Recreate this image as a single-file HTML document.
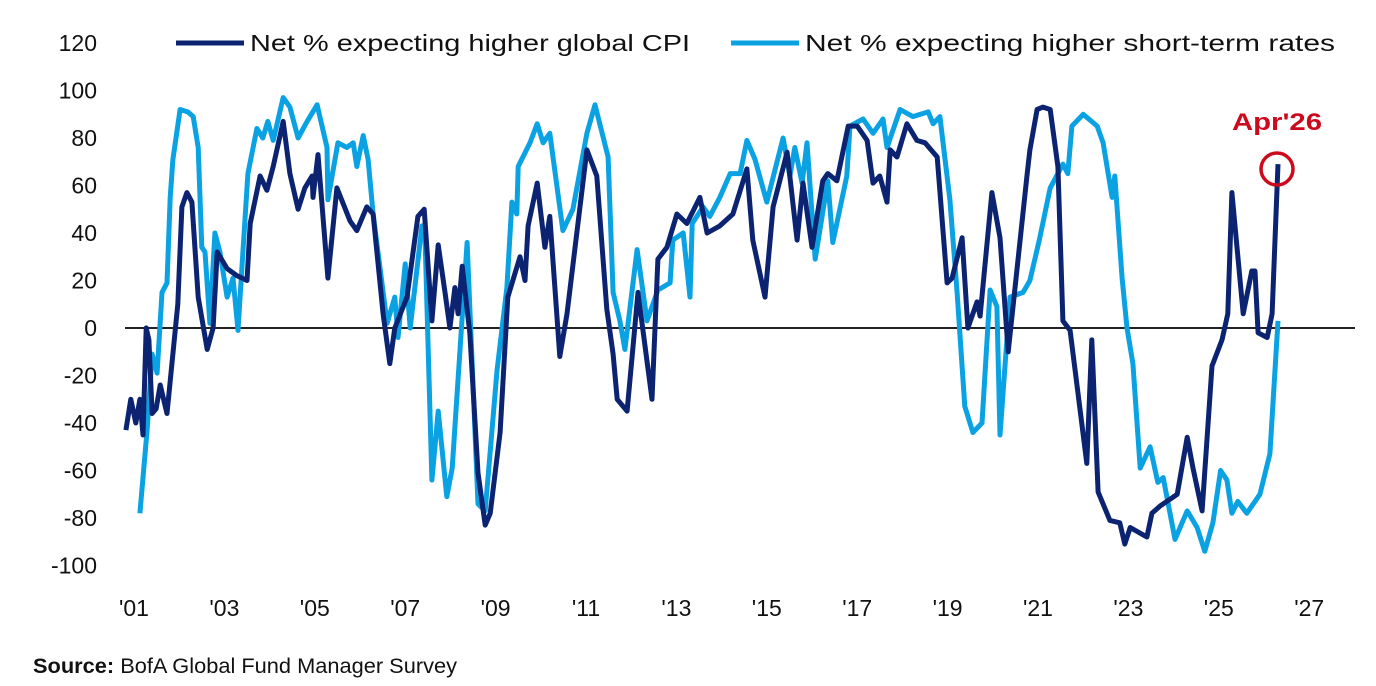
<!DOCTYPE html>
<html><head><meta charset="utf-8"><style>
html,body{margin:0;padding:0;background:#fff;}
svg{display:block;font-family:"Liberation Sans",sans-serif;}
</style></head><body>
<svg id="chart" width="1376" height="686" viewBox="0 0 1376 686" xmlns="http://www.w3.org/2000/svg">
<g id="yaxis"></g>
<g id="xaxis"></g>
<line x1="125" x2="1355" y1="328" y2="328" stroke="#222" stroke-width="2"/>
<g id="series"></g>
<g>
<g>
<line x1="176" x2="244" y1="43" y2="43" stroke="#0b2370" stroke-width="5"/>
<text x="250" y="51" font-size="23" fill="#111" textLength="440" lengthAdjust="spacingAndGlyphs">Net % expecting higher global CPI</text>
</g>
<g>
<line x1="731" x2="799" y1="43" y2="43" stroke="#0aa2e2" stroke-width="5"/>
<text x="805" y="51" font-size="23" fill="#111" textLength="530" lengthAdjust="spacingAndGlyphs">Net % expecting higher short-term rates</text>
</g>
</g>
<text x="1232" y="130" font-size="24" font-weight="bold" fill="#cc0a1e" textLength="90" lengthAdjust="spacingAndGlyphs">Apr'26</text>
<circle cx="1277" cy="169" r="16" fill="none" stroke="#cc0a1e" stroke-width="3.5"/>
<text x="33" y="673" font-size="21" fill="#111" textLength="424" lengthAdjust="spacingAndGlyphs"><tspan font-weight="bold">Source:</tspan> BofA Global Fund Manager Survey</text>
</svg>
<script>
const cpiDates=[2000.82,2000.93,2001.04,2001.13,2001.20,2001.27,2001.33,2001.40,2001.49,2001.58,2001.73,2001.97,2002.06,2002.17,2002.28,2002.42,2002.62,2002.75,2002.84,2003.06,2003.28,2003.50,2003.57,2003.79,2003.94,2004.08,2004.30,2004.45,2004.63,2004.78,2004.94,2004.96,2005.07,2005.29,2005.49,2005.78,2005.93,2006.15,2006.29,2006.51,2006.66,2006.77,2007.04,2007.28,2007.42,2007.59,2007.73,2007.88,2007.99,2008.10,2008.17,2008.26,2008.43,2008.61,2008.77,2008.88,2009.10,2009.27,2009.54,2009.65,2009.72,2009.92,2010.09,2010.20,2010.42,2010.58,2011.02,2011.24,2011.46,2011.60,2011.69,2011.91,2012.15,2012.46,2012.59,2012.79,2013.01,2013.23,2013.52,2013.68,2013.96,2014.25,2014.56,2014.69,2014.96,2015.14,2015.45,2015.67,2015.80,2016.00,2016.24,2016.35,2016.55,2016.80,2017.00,2017.22,2017.35,2017.50,2017.66,2017.73,2017.88,2018.10,2018.32,2018.50,2018.77,2018.99,2019.10,2019.32,2019.45,2019.65,2019.72,2019.98,2020.16,2020.34,2020.76,2020.82,2020.98,2021.11,2021.27,2021.44,2021.55,2021.71,2022.08,2022.19,2022.33,2022.59,2022.81,2022.92,2023.04,2023.41,2023.52,2023.70,2024.08,2024.30,2024.43,2024.63,2024.85,2025.07,2025.20,2025.29,2025.54,2025.73,2025.80,2025.87,2026.07,2026.18,2026.31];
const cpiValues=[-43,-30,-40,-30,-45,0,-5,-36,-34,-24,-36,10,51,57,53,13,-9,0,32,25,22,20,44,64,58,68,87,65,50,59,64,55,73,21,59,45,41,51,48,6,-15,0,13,47,50,3,35,15,0,17,6,26,-2,-61,-83,-78,-44,13,30,20,43,61,34,47,-12,6,75,64,8,-11,-30,-35,15,-30,29,34,48,44,55,40,43,48,67,37,13,51,74,37,61,34,62,65,62,85,85,79,61,64,53,75,72,86,79,78,72,19,21,38,0,11,5,57,38,-10,65,75,92,93,92,68,3,-1,-57,-5,-69,-81,-82,-91,-84,-88,-78,-75,-70,-46,-59,-77,-16,-5,6,57,6,24,24,-2,-4,6,69];
const rateDates=[2001.13,2001.29,2001.40,2001.51,2001.62,2001.73,2001.80,2001.86,2002.02,2002.19,2002.31,2002.42,2002.50,2002.57,2002.68,2002.79,2002.90,2003.06,2003.19,2003.30,2003.41,2003.52,2003.72,2003.85,2003.96,2004.08,2004.30,2004.45,2004.63,2004.83,2005.05,2005.27,2005.29,2005.51,2005.71,2005.85,2005.93,2006.07,2006.18,2006.29,2006.60,2006.77,2006.84,2007.00,2007.11,2007.37,2007.44,2007.59,2007.73,2007.92,2008.04,2008.37,2008.61,2008.77,2009.03,2009.25,2009.36,2009.47,2009.50,2009.76,2009.92,2010.05,2010.20,2010.49,2010.71,2011.02,2011.20,2011.49,2011.60,2011.75,2011.86,2012.13,2012.35,2012.59,2012.86,2012.92,2013.15,2013.30,2013.35,2013.59,2013.74,2013.96,2014.19,2014.41,2014.56,2014.74,2015.00,2015.36,2015.51,2015.62,2015.78,2015.89,2016.07,2016.35,2016.46,2016.77,2016.84,2017.13,2017.35,2017.57,2017.66,2017.95,2018.23,2018.57,2018.68,2018.83,2019.05,2019.21,2019.38,2019.56,2019.76,2019.94,2020.09,2020.16,2020.38,2020.67,2020.82,2021.04,2021.27,2021.55,2021.66,2021.75,2022.00,2022.31,2022.44,2022.64,2022.70,2022.86,2022.97,2023.10,2023.26,2023.48,2023.65,2023.77,2024.03,2024.30,2024.52,2024.69,2024.87,2025.04,2025.18,2025.29,2025.42,2025.62,2025.91,2026.13,2026.31];
const rateValues=[-78,-43,-11,-19,15,19,55,71,92,91,89,76,34,32,2,40,32,13,21,-1,32,65,84,80,87,79,97,93,80,87,94,76,54,78,76,78,68,81,71,48,2,13,-4,27,0,43,37,-64,-35,-71,-59,36,-74,-77,-18,17,53,48,68,78,86,78,82,41,50,82,94,72,15,3,-9,33,3,16,19,37,40,13,44,51,47,55,65,65,79,71,53,80,64,76,61,78,29,62,36,64,85,88,82,88,76,92,89,91,86,89,54,15,-33,-44,-40,16,9,-45,13,15,20,38,59,69,65,85,90,85,78,55,64,21,0,-15,-59,-50,-65,-63,-89,-77,-84,-94,-82,-60,-64,-78,-73,-78,-70,-53,3];
const yTicks=[120,100,80,60,40,20,0,-20,-40,-60,-80,-100];
const xTickYears=[2001,2003,2005,2007,2009,2011,2013,2015,2017,2019,2021,2023,2025,2027];
const xTickLabels=["'01","'03","'05","'07","'09","'11","'13","'15","'17","'19","'21","'23","'25","'27"];

const NS='http://www.w3.org/2000/svg';
function xs(yr){return 134+(yr-2001)*45.2;}
function ys(v){return 328-v*2.375;}
const yg=document.getElementById('yaxis');
yTicks.forEach(t=>{
  const el=document.createElementNS(NS,'text');
  
  
  el.setAttribute('x',97);el.setAttribute('y',ys(t)+8);
  el.setAttribute('text-anchor','end');el.setAttribute('font-size','23');el.setAttribute('fill','#111');
  el.textContent=t;yg.appendChild(el);
});
const xg=document.getElementById('xaxis');
xTickYears.forEach((yr,i)=>{
  const el=document.createElementNS(NS,'text');
  
  
  el.setAttribute('x',xs(yr));el.setAttribute('y',616);
  el.setAttribute('text-anchor','middle');el.setAttribute('font-size','23');el.setAttribute('fill','#111');
  el.textContent=xTickLabels[i];xg.appendChild(el);
});
const sg=document.getElementById('series');
function line(dates,vals,color,name){
  const p=document.createElementNS(NS,'path');
  
  
  p.setAttribute('d',dates.map((d,i)=>(i?'L':'M')+xs(d).toFixed(1)+','+ys(vals[i]).toFixed(1)).join(''));
  p.setAttribute('fill','none');p.setAttribute('stroke',color);p.setAttribute('stroke-width','5');
  p.setAttribute('stroke-linejoin','round');
  sg.appendChild(p);
}
line(rateDates,rateValues,'#0aa2e2','rates-line');
line(cpiDates,cpiValues,'#0b2370','cpi-line');
</script>
</body></html>
